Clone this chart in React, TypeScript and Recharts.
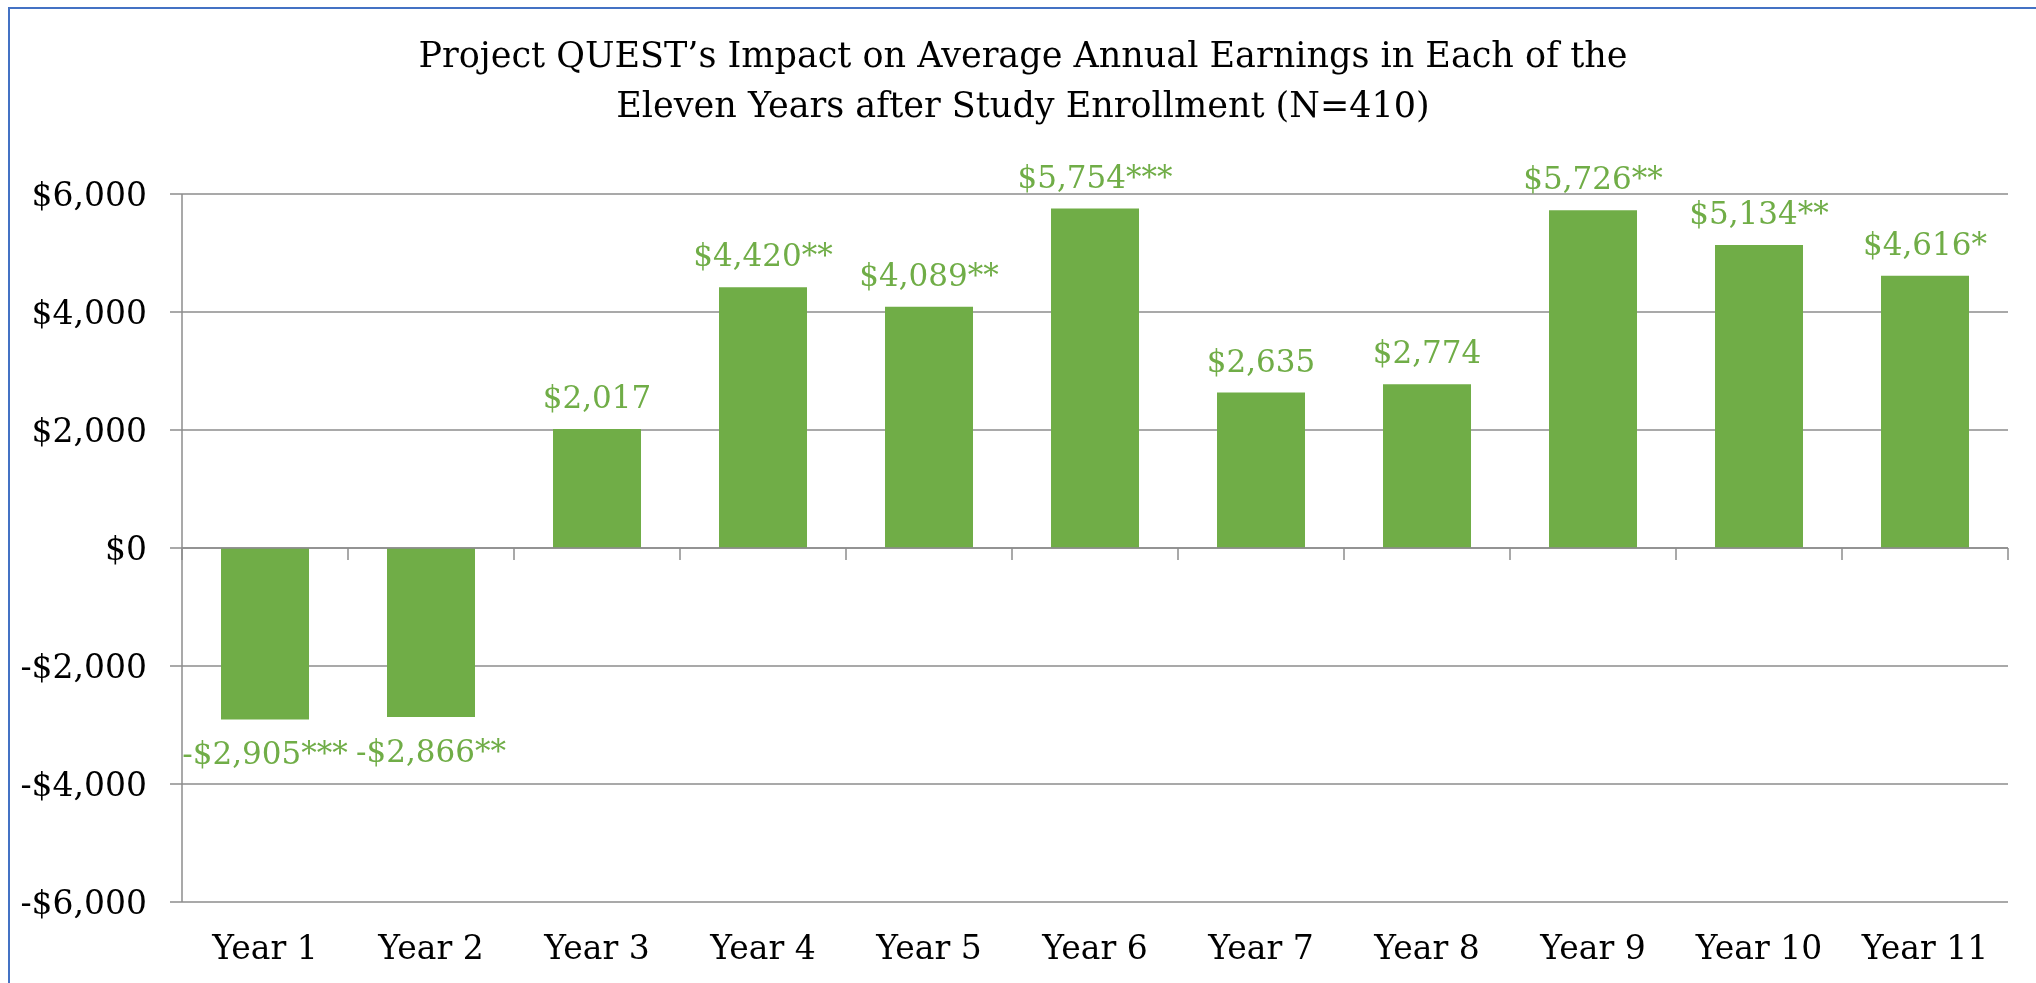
import { BarChart, Bar, XAxis, YAxis, CartesianGrid, ReferenceLine, LabelList } from "recharts";

const years = ["Year 1", "Year 2", "Year 3", "Year 4", "Year 5", "Year 6", "Year 7", "Year 8", "Year 9", "Year 10", "Year 11"];
const impacts = [-2905, -2866, 2017, 4420, 4089, 5754, 2635, 2774, 5726, 5134, 4616];
const stars = ["***", "**", "", "**", "**", "***", "", "", "**", "**", "*"];
const yTicks = [-6000, -4000, -2000, 0, 2000, 4000, 6000];
const titleLines = [
  "Project QUEST\u2019s Impact on Average Annual Earnings in Each of the",
  "Eleven Years after Study Enrollment (N=410)",
];

const rows = years.map((year, i) => ({ year, impact: impacts[i] }));

const FONT = "DejaVu Serif";
const GREEN = "#70AD47";
const GRID = "#8c8c8c";

function money(v: number) {
  const s = Math.abs(v).toString().replace(/\B(?=(\d{3})+(?!\d))/g, ",");
  return (v < 0 ? "-$" : "$") + s;
}

function BarLabel(props: any) {
  const { x, y, width, index } = props;
  const v = impacts[index];
  const ty = v >= 0 ? y - 21 : y + 45;
  return (
    <text x={x + width / 2} y={ty} textAnchor="middle" fill={GREEN} fontFamily={FONT} fontSize={31}>
      {money(v) + stars[index]}
    </text>
  );
}

function ZeroLine(props: any) {
  const { x1, y1, x2, y2 } = props;
  const n = years.length;
  const marks = [];
  for (let k = 0; k <= n; k++) {
    const x = x1 + ((x2 - x1) * k) / n;
    marks.push(<line key={k} x1={x} y1={y1} x2={x} y2={y1 + 12} stroke={GRID} strokeWidth={1.5} />);
  }
  return (
    <g>
      <line x1={x1} y1={y1} x2={x2} y2={y2} stroke={GRID} strokeWidth={1.5} />
      {marks}
    </g>
  );
}

export default function App() {
  return (
    <div style={{ position: "relative", width: 2020, height: 967, background: "#fff" }}>
      {/* chart frame: only left and top edges fall inside the picture */}
      <div
        style={{
          position: "fixed",
          left: 8,
          top: 7,
          width: 3000,
          height: 3000,
          border: "2px solid #4472C4",
          pointerEvents: "none",
        }}
      />
      <svg width={2020} height={130} style={{ position: "absolute", left: 0, top: 0 }}>
        {titleLines.map((t, i) => (
          <text key={i} x={1015} y={59 + i * 50} textAnchor="middle" fontFamily={FONT} fontSize={35} fill="#000">
            {t}
          </text>
        ))}
      </svg>
      <div style={{ position: "absolute", left: 0, top: 0 }}>
        <BarChart
          width={2020}
          height={967}
          data={rows}
          margin={{ top: 186, right: 20, left: 0, bottom: 13 }}
          barCategoryGap="23.5%"
        >
          <CartesianGrid horizontal vertical={false} stroke={GRID} strokeWidth={1.5} />
          <XAxis
            dataKey="year"
            axisLine={false}
            tickLine={false}
            tickSize={0}
            tickMargin={34}
            height={60}
            interval={0}
            tick={{ fontFamily: FONT, fontSize: 33, fill: "#000" }}
          />
          <YAxis
            type="number"
            domain={[-6000, 6000]}
            ticks={yTicks}
            width={174}
            tickSize={12}
            tickMargin={23}
            axisLine={{ stroke: GRID, strokeWidth: 1.5 }}
            tickLine={{ stroke: GRID, strokeWidth: 1.5 }}
            tickFormatter={money}
            tick={{ fontFamily: FONT, fontSize: 33, fill: "#000" }}
          />
          <Bar dataKey="impact" fill={GREEN} isAnimationActive={false}>
            <LabelList dataKey="impact" content={<BarLabel />} />
          </Bar>
          <ReferenceLine y={0} shape={(p: any) => <ZeroLine {...p} />} />
        </BarChart>
      </div>
    </div>
  );
}
